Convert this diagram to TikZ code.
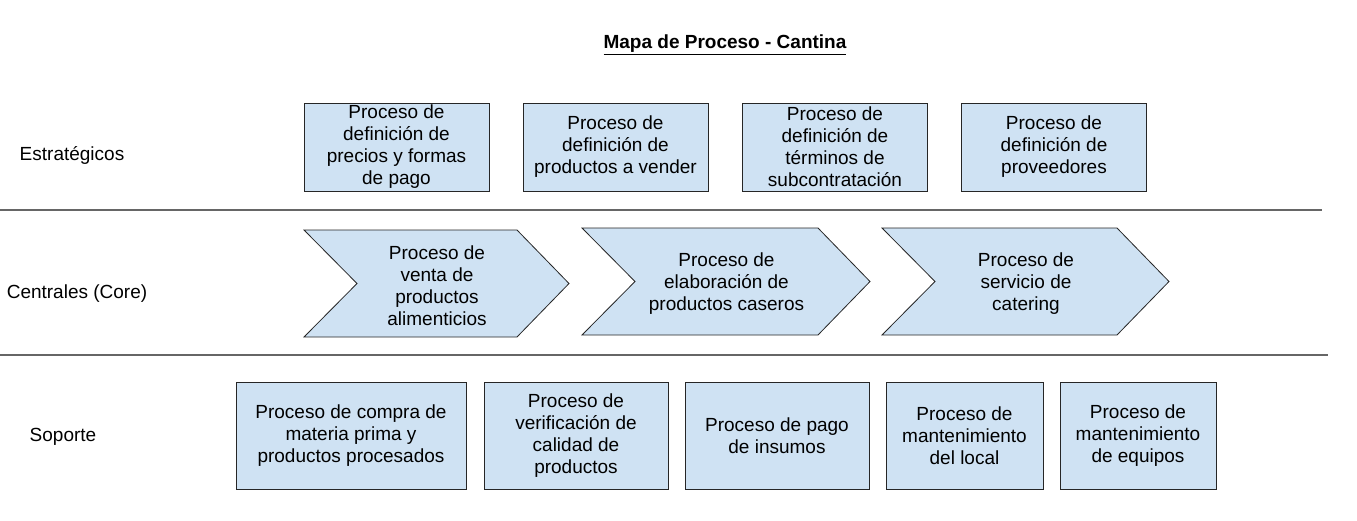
\documentclass[tikz,border=0pt]{standalone}
\usepackage{fontspec}
\setmainfont{Liberation Sans}
\definecolor{procblue}{HTML}{CFE2F3}
\definecolor{lanegray}{HTML}{666666}
\tikzset{
	proc/.style={draw=black!85, fill=procblue, line width=0.8pt, align=center, inner sep=0pt},
	lanesep/.style={draw=lanegray, line width=1.3pt},
}
\begin{document}
\begin{tikzpicture}[x=1pt,y=-1pt,font=\fontsize{19}{22}\selectfont]
	\useasboundingbox (0,0) rectangle (1357,520);
	
	\node[font=\fontsize{19}{22}\selectfont\bfseries] (title) at (725,45) {\underline{Mapa de Proceso - Cantina}};
	
	\coordinate (l1a) at (0,210);
	\coordinate (l1b) at (1322,210);
	\coordinate (l2a) at (0,355);
	\coordinate (l2b) at (1328,355);
	\draw[lanesep] (l1a) -- (l1b);
	\draw[lanesep] (l2a) -- (l2b);
	
	\node (est) at (72,155) {Estratégicos};
	\node (cen) at (77,294) {Centrales (Core)};
	\node (sop) at (63,437) {Soporte};
	
	\node[proc, minimum width=185pt, minimum height=88pt] (e1) at (396.5,147) {Proceso de\\definición de\\precios y formas\\de pago};
	\node[proc, minimum width=185pt, minimum height=88pt] (e2) at (615.5,147) {Proceso de\\definición de\\productos a vender};
	\node[proc, minimum width=185pt, minimum height=88pt] (e3) at (835,147) {Proceso de\\definición de\\términos de\\subcontratación};
	\node[proc, minimum width=185pt, minimum height=88pt] (e4) at (1054,147) {Proceso de\\definición de\\proveedores};
	
	\foreach \n/\x/\y/\w/\t in {c1/304/230/213/{Proceso de\\venta de\\productos\\alimenticios},
		c2/582/228/236/{Proceso de\\elaboración de\\productos caseros},
		c3/882/228/235/{Proceso de\\servicio de\\catering}}
	{
		\filldraw[proc] (\x,\y) -- ++(\w,0) -- ++(52,53.5) -- ++(-52,53.5) -- ++(-\w,0) -- ++(53,-53.5) -- cycle;
		\node[align=center] (\n) at (\x+\w/2+26.5,\y+55.5) {\t};
	}
	
	\node[proc, minimum width=230pt, minimum height=107pt] (s1) at (351,435.5) {Proceso de compra de\\materia prima y\\productos procesados};
	\node[proc, minimum width=184pt, minimum height=107pt] (s2) at (576,435.5) {Proceso de\\verificación de\\calidad de\\productos};
	\node[proc, minimum width=184pt, minimum height=107pt] (s3) at (777,435.5) {Proceso de pago\\de insumos};
	\node[proc, minimum width=157pt, minimum height=107pt] (s4) at (964.5,435.5) {Proceso de\\mantenimiento\\del local};
	\node[proc, minimum width=156pt, minimum height=107pt] (s5) at (1138,435.5) {Proceso de\\mantenimiento\\de equipos};
\end{tikzpicture}
\end{document}
